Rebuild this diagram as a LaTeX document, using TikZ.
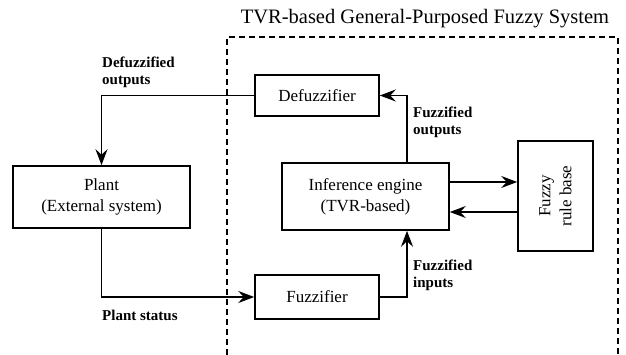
\documentclass[tikz,border=0pt]{standalone}
\usepackage{fontspec}
\setmainfont{Liberation Serif}
\usetikzlibrary{arrows.meta}

\tikzset{
  blk/.style={draw, line width=1.6pt, minimum width=#1, inner sep=0pt,
              font=\fontsize{17}{21}\selectfont, align=center},
  arr/.style={line width=1.6pt, -{Stealth[length=16pt,width=12pt,inset=5.5pt]}},
  lbl/.style={font=\fontsize{15}{17}\selectfont\bfseries, align=left,
              anchor=north west, inner sep=0pt},
  sysframe/.style={line width=1.6pt, dash pattern=on 6pt off 4pt},
}

\begin{document}
\begin{tikzpicture}[x=1pt, y=-1pt]
  \useasboundingbox (0,0) rectangle (626,355);

  % fuzzy system boundary and its caption
  \draw[sysframe] (227,355) -- (227,37) -- (618,37) -- (618,355);
  \node[font=\fontsize{20.5}{24}\selectfont, anchor=base] (title) at (425,24)
    {TVR-based General-Purposed Fuzzy System};

  % blocks
  \node[blk=124pt, minimum height=41pt] (defuzz) at (317,95.5) {Defuzzifier};
  \node[blk=177pt, minimum height=62pt] (plant)  at (101.5,197) {Plant\\(External system)};
  \node[blk=167pt, minimum height=67pt] (inf)    at (365.5,196.5) {Inference engine\\(TVR-based)};
  \node[blk=124pt, minimum height=44pt] (fuzz)   at (317,297) {Fuzzifier};
  \node[blk=110pt, minimum height=75pt, rotate=90] (rules) at (555.5,196) {Fuzzy\\rule base};

  % signal flow
  \draw[arr] (defuzz.west) -| (plant.north);
  \draw[arr] (plant.south) |- (fuzz.west);
  \draw[arr] (fuzz.east) -| ([xshift=41.5pt]inf.south);
  \draw[arr] ([xshift=41.5pt]inf.north) |- (defuzz.east);
  \draw[arr] ([yshift=14.5pt]inf.east) -- ([yshift=14.5pt]inf.east -| rules.north);
  \draw[arr] ([yshift=-15.5pt]inf.east -| rules.north) -- ([yshift=-15.5pt]inf.east);

  % signal labels
  \node[lbl] (ldef)  at (102,57)  {Defuzzified\\outputs};
  \node[lbl] (lfout) at (413,107) {Fuzzified\\outputs};
  \node[lbl] (lfin)  at (413,260) {Fuzzified\\inputs};
  \node[lbl] (lps)   at (102,310) {Plant status};
\end{tikzpicture}
\end{document}
